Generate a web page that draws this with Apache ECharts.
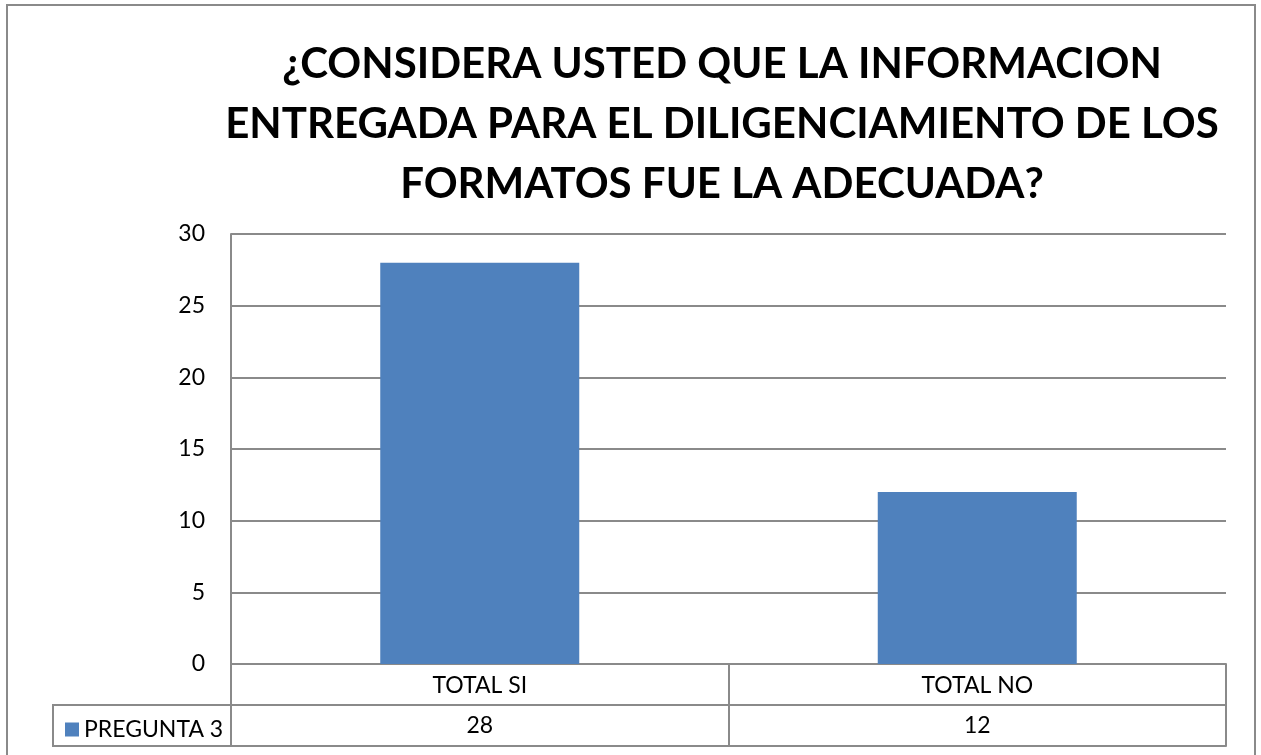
<!DOCTYPE html>
<html>
<head>
<meta charset="utf-8">
<script src="https://cdn.jsdelivr.net/npm/echarts@6/dist/echarts.min.js"></script>
<style>
  html, body { margin: 0; padding: 0; background: #fff; }
  .main { width: 1261px; height: 755px; }
</style>
</head>
<body>
<div class="main"></div>
<script>
var categories = ['TOTAL SI', 'TOTAL NO'];
var seriesName = 'PREGUNTA 3';
var values = [28, 12];
var yTicks = [0, 5, 10, 15, 20, 25, 30];

var titleText = '¿CONSIDERA USTED QUE LA INFORMACION\nENTREGADA PARA EL DILIGENCIAMIENTO DE LOS\nFORMATOS FUE LA ADECUADA?';

var lineColor = '#8a8a8a';
var font = 'Lato';

var myChart = echarts.init(document.querySelector('.main'));

var option = {
    animation: false,
    title: {
        text: titleText,
        left: 717,
        top: 29,
        textAlign: 'center',
        textStyle: {
            fontFamily: font,
            fontWeight: 'bold',
            fontSize: 42,
            lineHeight: 60,
            color: '#000'
        }
    },
    legend: {
        data: [seriesName],
        left: 60,
        top: 713,
        itemWidth: 14,
        itemHeight: 14,
        icon: 'rect',
        textStyle: { fontFamily: font, fontSize: 23, color: '#000' }
    },
    grid: { left: 231, right: 35, top: 234, bottom: 91 },
    xAxis: [{
        type: 'category',
        data: categories,
        axisLine: { lineStyle: { color: lineColor, width: 2 } },
        axisTick: { show: true, length: 82, lineStyle: { color: lineColor, width: 2 } },
        axisLabel: { fontFamily: font, fontSize: 23, color: '#000', verticalAlign: 'middle', margin: 22 }
    }, {
        type: 'category',
        data: categories,
        position: 'bottom',
        offset: 41,
        axisLine: { lineStyle: { color: lineColor, width: 2 } },
        axisTick: { show: false },
        axisLabel: {
            fontFamily: font, fontSize: 23, color: '#000', verticalAlign: 'middle', margin: 21,
            formatter: function (v, i) { return String(values[i]); }
        }
    }, {
        type: 'category',
        data: categories,
        position: 'bottom',
        offset: 82,
        axisLine: { lineStyle: { color: lineColor, width: 2 } },
        axisTick: { show: false },
        axisLabel: { show: false }
    }],
    yAxis: {
        type: 'value',
        min: yTicks[0],
        max: yTicks[yTicks.length - 1],
        interval: 5,
        axisLine: { show: true, lineStyle: { color: lineColor, width: 2 } },
        axisTick: { show: false },
        axisLabel: { fontFamily: font, fontSize: 23, color: '#000', margin: 26 },
        splitLine: { lineStyle: { color: lineColor, width: 2 } }
    },
    series: [{
        name: seriesName,
        type: 'bar',
        data: values,
        barWidth: '40%',
        itemStyle: { color: '#4F81BD' }
    }],
    graphic: [{
        type: 'rect',
        shape: { x: 7, y: 5, width: 1248, height: 770 },
        style: { fill: 'none', stroke: lineColor, lineWidth: 2 },
        silent: true
    }, {
        type: 'rect',
        shape: { x: 53, y: 705, width: 178, height: 41 },
        style: { fill: 'none', stroke: lineColor, lineWidth: 2 },
        silent: true
    }]
};

myChart.setOption(option);
</script>
</body>
</html>
